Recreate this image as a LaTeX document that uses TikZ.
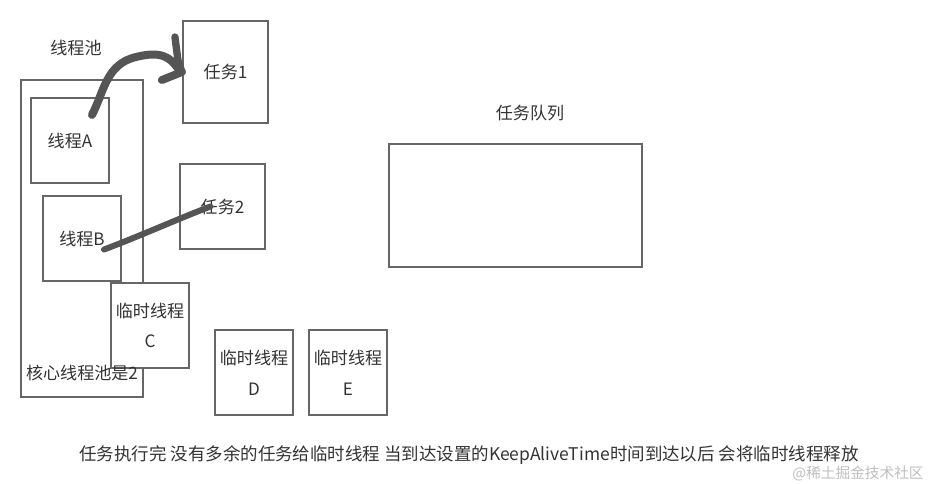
\documentclass[tikz,border=0pt]{standalone}
\usepackage{fontspec}
\setmainfont{Noto Sans CJK SC}
\usepackage{tikz}
\definecolor{boxgray}{HTML}{666666}
\definecolor{inkgray}{HTML}{555555}
\definecolor{txtgray}{HTML}{333333}
\begin{document}
\begin{tikzpicture}[x=0.75pt,y=-0.75pt,
  box/.style={draw=boxgray,line width=1.6pt,fill=white,inner sep=0pt},
  lbl/.style={text=txtgray,font=\fontsize{12.8pt}{23pt}\selectfont,inner sep=0pt,align=center},
  brush/.style={draw=inkgray,line cap=round,line join=round}]
\useasboundingbox (0,0) rectangle (931,483);
\fill [white] (0,0) rectangle (931,483);
\node [box,minimum width=91.5pt,minimum height=237.75pt] (pool) at (82,238.5) {};
\node [lbl] (poolname) at (76,48) {线程池};
\node [box,lbl,minimum width=58.5pt,minimum height=63.75pt] (thA) at (70,140.5) {线程A};
\node [box,lbl,minimum width=58.5pt,minimum height=63.75pt] (thB) at (82,238.5) {线程B};
\node [box,lbl,minimum width=58.5pt,minimum height=63.75pt] (tmpC) at (150,325.5) {临时线程\\C};
\node [lbl] (corenum) at (82,373) {核心线程池是2};
\node [box,lbl,minimum width=58.5pt,minimum height=63.75pt] (tmpD) at (254,372.5) {临时线程\\D};
\node [box,lbl,minimum width=58.5pt,minimum height=63.75pt] (tmpE) at (348,372.5) {临时线程\\E};
\node [box,lbl,minimum width=63.75pt,minimum height=76.5pt] (task1) at (225.5,72) {任务1};
\node [box,lbl,minimum width=63.75pt,minimum height=63.75pt] (task2) at (222.5,206.5) {任务2};
\node [lbl] (queuename) at (530,113) {任务队列};
\node [box,minimum width=189.75pt,minimum height=92.25pt] (queue) at (515.5,205.5) {};
\draw [brush,line width=6pt] ([shift={(22,18)}]thA.north) .. controls (104,92) and (106,64) .. (136,57)
  .. controls (160,51) and (170,56) .. ([shift={(-3,-2)}]task1.west);
\draw [brush,line width=5.5pt] ([shift={(-7,-35)}]task1.west) -- ([shift={(-4,-12)}]task1.west) -- (task1.west);
\draw [brush,line width=6pt] (task1.west) -- ([shift={(-20,8)}]task1.west);
\draw [brush,line width=4.5pt] ([shift={(22,11)}]thB.center) .. controls (140,236) and (180,218) .. ([shift={(-12,0)}]task2.center);
\node [lbl,font=\fontsize{13.1pt}{23pt}\selectfont] (note) at (469,455) {任务执行完 没有多余的任务给临时线程 当到达设置的KeepAliveTime时间到达以后 会将临时线程释放};
\node [lbl,text=black!25,font=\fontsize{11pt}{13pt}\selectfont] (mark) at (858,474) {@稀土掘金技术社区};
\end{tikzpicture}
\end{document}
